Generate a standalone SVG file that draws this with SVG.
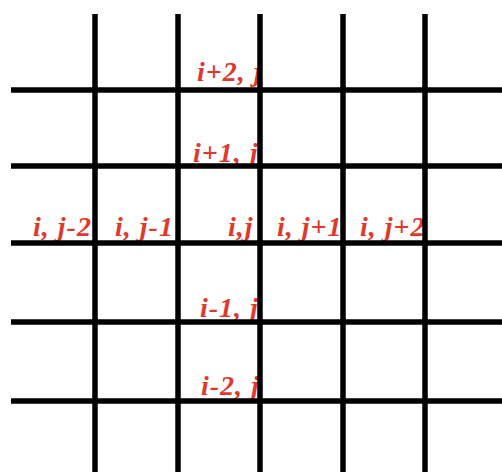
<svg xmlns="http://www.w3.org/2000/svg" width="502" height="474" viewBox="0 0 502 474">
<style>
.lbl{font-family:"Liberation Serif","Times New Roman",serif;font-style:italic;font-weight:bold;font-size:28px;fill:#e0382d;letter-spacing:1px}
.grid line{stroke:#000;stroke-width:5.5}
</style>
<rect width="502" height="474" fill="#fff"/>
<g id="labels">
<text class="lbl" x="197" y="81">i+2, j</text>
<text class="lbl" x="193" y="162">i+1, j</text>
<text class="lbl" x="33" y="236">i, j-2</text>
<text class="lbl" x="115" y="236">i, j-1</text>
<text class="lbl" x="228" y="236">i,j</text>
<text class="lbl" x="277" y="236">i, j+1</text>
<text class="lbl" x="360" y="236">i, j+2</text>
<text class="lbl" x="200" y="317">i-1, j</text>
<text class="lbl" x="201" y="395">i-2, j</text>
</g>
<g id="grid" class="grid">
<line x1="95" y1="14" x2="95" y2="472"/>
<line x1="178" y1="14" x2="178" y2="472"/>
<line x1="260" y1="14" x2="260" y2="472"/>
<line x1="343" y1="14" x2="343" y2="472"/>
<line x1="425" y1="14" x2="425" y2="472"/>
<line x1="11" y1="90" x2="502" y2="90"/>
<line x1="11" y1="166" x2="502" y2="166"/>
<line x1="11" y1="243" x2="502" y2="243"/>
<line x1="11" y1="322" x2="502" y2="322"/>
<line x1="11" y1="401" x2="502" y2="401"/>
</g>
</svg>
